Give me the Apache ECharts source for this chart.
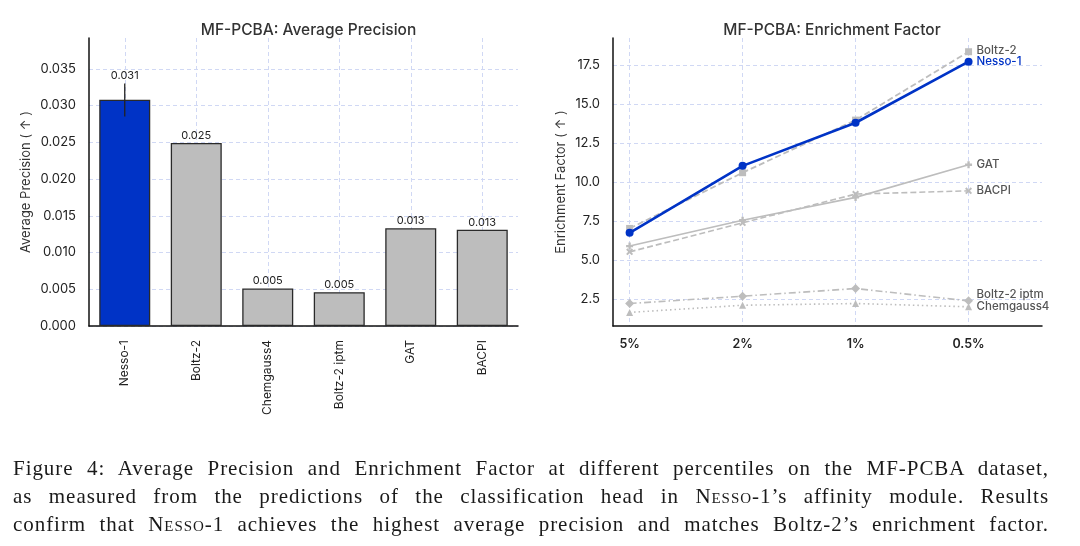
<!DOCTYPE html>
<html>
<head>
<meta charset="utf-8">
<script src="https://cdn.jsdelivr.net/npm/echarts@6/dist/echarts.min.js"></script>
<style>
  html, body { margin: 0; padding: 0; background: #fff; }
  #chart { position: absolute; left: 0; top: 0; width: 1080px; height: 546px; }
  .cap { position: absolute; left: 13px; width: 1036px; font-family: "Liberation Serif", "DejaVu Serif", serif;
         font-size: 21px; line-height: 28px; color: #1a1a1a; text-align: justify; text-align-last: justify;
         white-space: nowrap; letter-spacing: 0.95px; }
  .sc { font-variant: small-caps; }
</style>
</head>
<body>
<div id="chart"></div>
<div class="cap" style="top:454px">Figure 4: Average Precision and Enrichment Factor at different percentiles on the MF-PCBA dataset,</div>
<div class="cap" style="top:482px">as measured from the predictions of the classification head in <span class="sc">Nesso</span>-1’s affinity module. Results</div>
<div class="cap" style="top:510px">confirm that <span class="sc">Nesso</span>-1 achieves the highest average precision and matches Boltz-2’s enrichment factor.</div>
<script>
// ---- data ----
const categories = ['Nesso-1', 'Boltz-2', 'Chemgauss4', 'Boltz-2 iptm', 'GAT', 'BACPI'];
const apValues = [0.0308, 0.0249, 0.0051, 0.0046, 0.0133, 0.0131];
const apErrLow = [0.0285, null, null, null, null, null];
const apErrHigh = [0.0330, null, null, null, null, null];
const apTicks = [0, 0.005, 0.010, 0.015, 0.020, 0.025, 0.030, 0.035];

const percentiles = ['5%', '2%', '1%', '0.5%'];
const efNesso1 = [6.77, 11.06, 13.82, 17.73];
const efBoltz2 = [7.05, 10.62, 13.99, 18.37];
const efGAT = [5.92, 7.58, 9.04, 11.13];
const efBACPI = [5.55, 7.41, 9.25, 9.46];
const efBoltz2iptm = [2.24, 2.71, 3.20, 2.41];
const efChemgauss4 = [1.67, 2.13, 2.24, 2.03];
const efTicks = [2.5, 5.0, 7.5, 10.0, 12.5, 15.0, 17.5];

// ---- styles ----
const FONT = 'Inter';
const BLUE = '#0033c6';
const GRAY = '#bdbdbd';
const GRID_LINE = { show: true, lineStyle: { color: '#d0d8f4', type: [4, 3], width: 1 } };
const AXIS_LINE = { show: true, onZero: false, lineStyle: { color: '#111', width: 1.5 } };

const chart = echarts.init(document.getElementById('chart'), null, { renderer: 'canvas' });

function pts(arr) { return arr.map((v, i) => [i, v]); }
const plusPath = 'path://M-1,-3H1V-1H3V1H1V3H-1V1H-3V-1H-1Z';
const xPath = 'path://M-2.1,-3.5L0,-1.4L2.1,-3.5L3.5,-2.1L1.4,0L3.5,2.1L2.1,3.5L0,1.4L-2.1,3.5L-3.5,2.1L-1.4,0L-3.5,-2.1Z';

function endLabel(color, offset) {
  return { show: true, formatter: '{a}', color: color, fontSize: 11.5, fontWeight: 500,
           fontFamily: FONT, distance: 8, offset: offset || [0, 0] };
}

function lineSeries(name, arr, opts) {
  return Object.assign({
    type: 'line', name: name, xAxisIndex: 2, yAxisIndex: 1,
    data: pts(arr), symbolSize: 7, z: 3,
    itemStyle: { color: GRAY },
    lineStyle: { color: GRAY, width: 1.6 },
    endLabel: endLabel('#555'),
    emphasis: { disabled: true }
  }, opts);
}

const option = {
  animation: false,
  textStyle: { fontFamily: FONT },
  title: [
    { text: 'MF-PCBA: Average Precision', left: 303.5, top: 17, textAlign: 'center',
      textStyle: { fontSize: 15.5, fontWeight: 500, color: '#333', fontFamily: FONT } },
    { text: 'MF-PCBA: Enrichment Factor', left: 827, top: 17, textAlign: 'center',
      textStyle: { fontSize: 15.5, fontWeight: 500, color: '#333', fontFamily: FONT } }
  ],
  grid: [
    { left: 89, top: 38, width: 429, height: 288 },
    { left: 613, top: 38, width: 429, height: 288 }
  ],
  xAxis: [
    { type: 'category', gridIndex: 0, data: categories,
      axisLine: AXIS_LINE, axisTick: { show: false }, splitLine: { show: false },
      axisLabel: { rotate: 90, margin: 14, fontSize: 12, color: '#222', fontFamily: FONT } },
    { type: 'value', gridIndex: 0, min: -0.5, max: 5.5, show: true,
      axisLine: { show: false, onZero: false }, axisLabel: { show: false },
      axisTick: { show: false, customValues: [0, 1, 2, 3, 4, 5] },
      splitLine: GRID_LINE },
    { type: 'value', gridIndex: 1, min: -0.147, max: 3.65,
      axisLine: AXIS_LINE,
      axisTick: { show: false, customValues: [0, 1, 2, 3] },
      axisLabel: { customValues: [0, 1, 2, 3], formatter: v => percentiles[Math.round(v)],
                   margin: 12, fontSize: 12.5, fontWeight: 600, color: '#222', fontFamily: FONT },
      splitLine: GRID_LINE }
  ],
  yAxis: [
    { type: 'value', gridIndex: 0, min: 0, max: 0.0392,
      name: 'Average Precision ( ↑ )', nameLocation: 'middle', nameRotate: 90, nameGap: 56,
      nameTextStyle: { fontSize: 13, color: '#333', fontFamily: FONT },
      axisLine: AXIS_LINE,
      axisTick: { show: false, customValues: apTicks },
      axisLabel: { customValues: apTicks, formatter: v => v.toFixed(3), margin: 13,
                   fontSize: 13, color: '#222', fontFamily: FONT },
      splitLine: GRID_LINE },
    { type: 'value', gridIndex: 1, min: 0.8, max: 19.25,
      name: 'Enrichment Factor ( ↑ )', nameLocation: 'middle', nameRotate: 90, nameGap: 45,
      nameTextStyle: { fontSize: 13, color: '#333', fontFamily: FONT },
      axisLine: AXIS_LINE,
      axisTick: { show: false, customValues: efTicks },
      axisLabel: { customValues: efTicks, formatter: v => v.toFixed(1), margin: 13,
                   fontSize: 13, color: '#222', fontFamily: FONT },
      splitLine: GRID_LINE }
  ],
  series: [
    { type: 'bar', xAxisIndex: 0, yAxisIndex: 0, barWidth: 51, z: 2,
      data: apValues.map((v, i) => ({ value: v, itemStyle: { color: i === 0 ? BLUE : GRAY } })),
      itemStyle: { borderColor: '#2a2a2a', borderWidth: 1.3 },
      emphasis: { disabled: true } },
    { type: 'custom', xAxisIndex: 0, yAxisIndex: 0, z: 5,
      data: apValues.map((v, i) => [i, v, apErrLow[i] == null ? v : apErrLow[i], apErrHigh[i] == null ? v : apErrHigh[i]]),
      encode: { x: 0, y: 1 },
      renderItem: function (params, api) {
        const i = api.value(0), v = api.value(1), lo = api.value(2), hi = api.value(3);
        const children = [];
        if (hi > v) {
          const p1 = api.coord([i, lo]), p2 = api.coord([i, hi]);
          children.push({ type: 'line', shape: { x1: p1[0], y1: p1[1], x2: p2[0], y2: p2[1] },
                          style: { stroke: '#222', lineWidth: 1.3 } });
        }
        const top = api.coord([i, Math.max(v, hi)]);
        children.push({ type: 'text', style: { text: v.toFixed(3), x: top[0], y: top[1] - 2,
                        align: 'center', verticalAlign: 'bottom', fill: '#222',
                        fontSize: 11, fontFamily: FONT } });
        return { type: 'group', children: children };
      } },
    lineSeries('Boltz-2', efBoltz2, { symbol: 'rect', symbolSize: 7,
      lineStyle: { color: GRAY, width: 1.8, type: [6, 3] }, endLabel: endLabel('#555', [0, -1]) }),
    lineSeries('GAT', efGAT, { symbol: plusPath, symbolSize: 7 }),
    lineSeries('BACPI', efBACPI, { symbol: xPath, symbolSize: 7,
      lineStyle: { color: GRAY, width: 1.6, type: [6, 3] } }),
    lineSeries('Boltz-2 iptm', efBoltz2iptm, { symbol: 'diamond', symbolSize: 9,
      lineStyle: { color: GRAY, width: 1.6, type: [7, 3, 1.5, 3] },
      endLabel: endLabel('#555', [0, -6]) }),
    lineSeries('Chemgauss4', efChemgauss4, { symbol: 'triangle', symbolSize: 7,
      lineStyle: { color: GRAY, width: 1.6, type: [1.5, 3] } }),
    lineSeries('Nesso-1', efNesso1, { symbol: 'circle', symbolSize: 8, z: 6,
      itemStyle: { color: BLUE }, lineStyle: { color: BLUE, width: 2.6 },
      endLabel: endLabel(BLUE) })
  ]
};
chart.setOption(option);
</script>
</body>
</html>
